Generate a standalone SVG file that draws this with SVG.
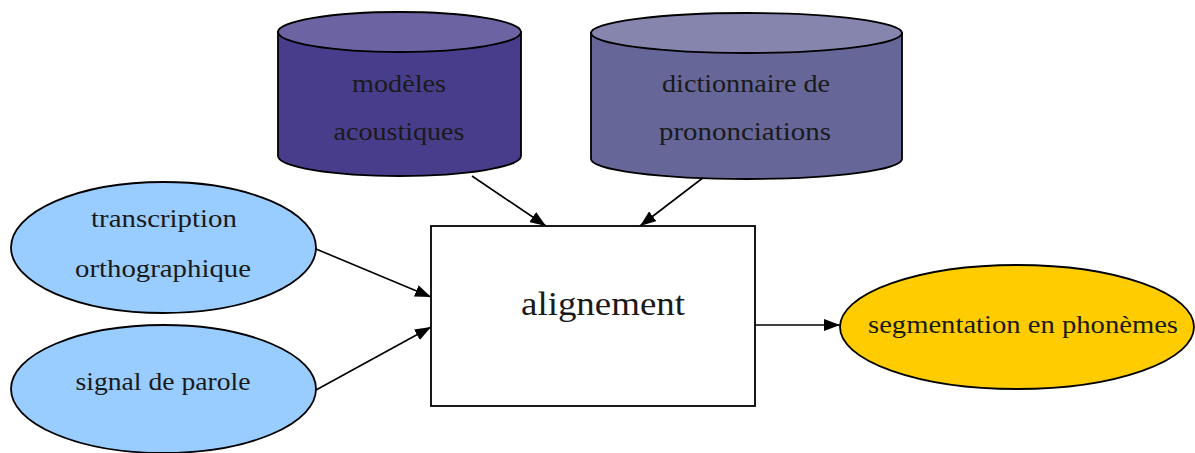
<svg xmlns="http://www.w3.org/2000/svg" width="1195" height="453" viewBox="0 0 1195 453">
<style>
.t{font-family:"Liberation Serif","Times New Roman",serif;font-size:25px;fill:#1a1a1a;text-anchor:middle}
.s{stroke:#000;stroke-width:1.8}
.c{stroke:#000;stroke-width:1.6;fill:none}
</style>
<defs>
<marker id="ah" viewBox="0 0 16 12" refX="16" refY="6" markerWidth="16" markerHeight="12" markerUnits="userSpaceOnUse" orient="auto">
<path d="M0,0 L16,6 L0,12 z" fill="#000"/>
</marker>
</defs>
<rect width="1195" height="453" fill="#fff"/>
<g id="connectors">
<line class="c" x1="472" y1="176" x2="546" y2="226" marker-end="url(#ah)"/>
<line class="c" x1="704" y1="177" x2="640" y2="226" marker-end="url(#ah)"/>
<line class="c" x1="316" y1="249" x2="431" y2="297" marker-end="url(#ah)"/>
<line class="c" x1="316" y1="390" x2="431" y2="327" marker-end="url(#ah)"/>
<line class="c" x1="755" y1="325" x2="840" y2="325" marker-end="url(#ah)"/>
</g>
<g id="modeles">
<path class="s" d="M278,32 L278,156 A121.5,20 0 0 0 521,156 L521,32 Z" fill="#483d8b"/>
<ellipse class="s" cx="399.5" cy="32" rx="121.5" ry="20" fill="#6c63a3"/>
<text class="t" x="399" y="92" textLength="94" lengthAdjust="spacingAndGlyphs">modèles</text>
<text class="t" x="399" y="140" textLength="131" lengthAdjust="spacingAndGlyphs">acoustiques</text>
</g>
<g id="dictionnaire">
<path class="s" d="M591,33 L591,159 A155.5,20 0 0 0 902,159 L902,33 Z" fill="#666699"/>
<ellipse class="s" cx="746.5" cy="33" rx="155.5" ry="20" fill="#8585ad"/>
<text class="t" x="746" y="92" textLength="168" lengthAdjust="spacingAndGlyphs">dictionnaire de</text>
<text class="t" x="745" y="140" textLength="172" lengthAdjust="spacingAndGlyphs">prononciations</text>
</g>
<g id="transcription">
<ellipse class="s" cx="163.5" cy="247.5" rx="152.5" ry="65.5" fill="#99ccff"/>
<text class="t" x="164" y="227" textLength="146" lengthAdjust="spacingAndGlyphs">transcription</text>
<text class="t" x="163" y="277" textLength="176" lengthAdjust="spacingAndGlyphs">orthographique</text>
</g>
<g id="signal">
<ellipse class="s" cx="163.5" cy="389" rx="152.5" ry="64" fill="#99ccff"/>
<text class="t" x="163" y="390" textLength="175" lengthAdjust="spacingAndGlyphs">signal de parole</text>
</g>
<g id="alignement">
<rect class="s" x="431" y="226" width="324" height="180" fill="#fff"/>
<text class="t" x="603" y="315" style="font-size:34px" textLength="164" lengthAdjust="spacingAndGlyphs">alignement</text>
</g>
<g id="segmentation">
<ellipse class="s" cx="1017" cy="327" rx="177" ry="62" fill="#ffcc00"/>
<text class="t" x="1023" y="333" textLength="310" lengthAdjust="spacingAndGlyphs">segmentation en phonèmes</text>
</g>
</svg>
